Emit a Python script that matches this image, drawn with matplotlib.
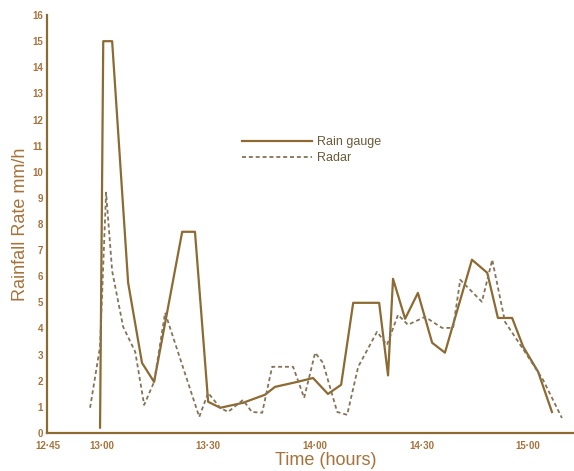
# -*- coding: utf-8 -*-
"""
Rain gauge vs radar rainfall rate, 12:45 - 15:05.
Time is kept as minutes after 12:45.
"""

import matplotlib
matplotlib.use("Agg")
import matplotlib.pyplot as plt

plt.rcParams['font.family'] = ['Liberation Sans', 'DejaVu Sans']

# rain gauge (solid line)
gauge_min = [14.6, 15.5, 18.0, 22.5, 26.4, 29.8, 37.7, 41.3, 45.0, 48.4,
             54.8, 61.0, 63.8, 70.0, 74.5, 78.7, 82.4, 85.8, 93.1, 95.6,
             97.0, 100.4, 104.0, 108.0, 111.6, 119.2, 123.5, 126.5, 130.5,
             133.6, 137.8, 141.7]
gauge_rate = [0.2, 15.0, 15.0, 5.75, 2.68, 1.95, 7.7, 7.7, 1.19, 0.96,
              1.15, 1.46, 1.76, 1.95, 2.1, 1.49, 1.84, 4.98, 4.98, 2.2,
              5.9, 4.37, 5.36, 3.45, 3.07, 6.63, 6.13, 4.4, 4.4,
              3.3, 2.34, 0.8]

# radar (dashed line)
radar_min = [11.8, 14.6, 16.3, 18.0, 21.1, 24.5, 27.0, 29.8, 32.9, 42.5,
             45.0, 48.4, 50.6, 54.8, 57.3, 60.2, 63.0, 68.9, 72.0, 75.1,
             77.3, 81.3, 84.1, 87.2, 92.5, 95.3, 98.4, 101.2, 106.0, 110.8,
             113.9, 115.9, 122.0, 124.9, 128.5, 134.1, 139.2, 144.5]
radar_rate = [0.96, 3.3, 9.2, 6.2, 4.06, 3.1, 1.07, 1.95, 4.6, 0.61,
              1.53, 0.96, 0.8, 1.26, 0.8, 0.77, 2.53, 2.53, 1.34, 3.07,
              2.68, 0.8, 0.69, 2.53, 3.87, 3.37, 4.52, 4.14, 4.44, 4.02,
              4.02, 5.86, 5.02, 6.63, 4.25, 3.1, 2.03, 0.57]

xtick_pos = [0, 15, 45, 75, 105, 135]
xtick_labels = ["12·45", "13·00", "13·30", "14·00", "14·30", "15·00"]
yticks = list(range(0, 17))

brown = '#8c6a32'
text_brown = '#a6733c'

fig = plt.figure(figsize=(5.74, 4.71), dpi=100)
ax = fig.add_axes([0.082, 0.081, 0.918, 0.887])

ax.plot(gauge_min, gauge_rate, color=brown, lw=1.6, label="Rain gauge")
ax.plot(radar_min, radar_rate, color='#857358', lw=1.3,
        linestyle=(0, (2.2, 1.6)), label="Radar")

ax.set_xlim(-0.3, 147.9)
ax.set_ylim(0, 16)
ax.set_xticks(xtick_pos)
ax.set_xticklabels(xtick_labels)
ax.set_yticks(yticks)

for s in ['top', 'right']:
    ax.spines[s].set_visible(False)
for s in ['left', 'bottom']:
    ax.spines[s].set_color(brown)
    ax.spines[s].set_linewidth(1.6)

ax.tick_params(length=0, labelsize=7, colors=text_brown)
ax.tick_params(axis='x', pad=6)
ax.tick_params(axis='y', pad=3)
for lab in ax.get_xticklabels() + ax.get_yticklabels():
    lab.set_fontweight('bold')

ax.set_ylabel("Rainfall Rate mm/h", fontsize=13, color=text_brown, labelpad=2)
ax.set_xlabel("Time (hours)", fontsize=13, color=text_brown)
ax.xaxis.set_label_coords(0.529, -0.046)

ax.legend(loc='upper left', bbox_to_anchor=(242 / 574, 1 - 136 / 471),
          bbox_transform=fig.transFigure, frameon=False, fontsize=9,
          handlelength=5.6, handletextpad=0.4, labelspacing=0.35,
          labelcolor='#6a5a3a', borderpad=0, borderaxespad=0)

fig.savefig("out.png", dpi=100)
